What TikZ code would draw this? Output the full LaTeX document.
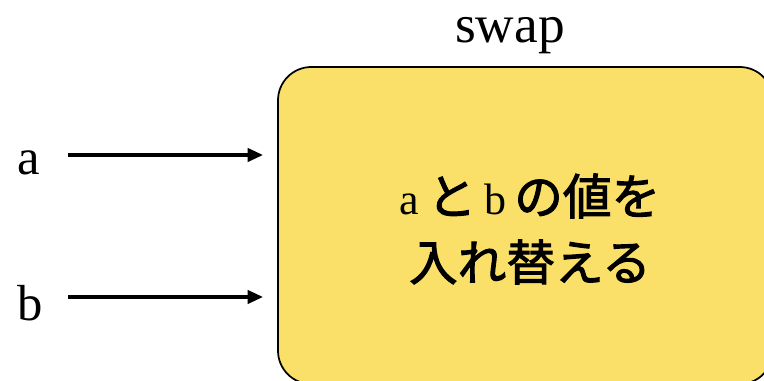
\documentclass[tikz,border=0pt]{standalone}
\usepackage{fontspec}
\setmainfont{Liberation Serif}
\newfontfamily\jp[FakeBold=2]{Noto Sans CJK JP}
\usetikzlibrary{arrows.meta}
\definecolor{boxfill}{RGB}{250,224,104}
\tikzset{
  lat/.style={font=\fontsize{38}{44}\selectfont, inner sep=0pt, anchor=base},
  swapbox/.style={draw=black, line width=1.3pt, fill=boxfill, rounded corners=25pt,
    minimum width=371.25pt, minimum height=237.75pt, inner sep=0pt},
  inner/.style={font=\fontsize{36.5}{49.5}\selectfont\jp, align=center, inner sep=0pt},
  arr/.style={line width=2.3pt, -{Triangle[length=11.5pt,width=10pt]}}
}
\begin{document}
\begin{tikzpicture}[x=0.75pt,y=-0.75pt]
\useasboundingbox (0,0) rectangle (764,381);
\clip (0,0) rectangle (764,381);
\node[swapbox] (box) at (525.5,225.5) {};
\node[lat, font=\fontsize{40}{46}\selectfont] (title) at (510,43) {swap};
\node[inner] (txt) at (530,229) {{\fontsize{33}{36}\selectfont\rmfamily a}\,と\,{\fontsize{33}{36}\selectfont\rmfamily b}\,の値を\\入れ替える};
\node[lat] (la) at (29,175) {a};
\node[lat] (lb) at (30,320) {b};
\coordinate (as) at (68,155);
\coordinate (ae) at (263,155);
\coordinate (bs) at (68,297);
\coordinate (be) at (263,297);
\draw[arr] (as) -- (ae);
\draw[arr] (bs) -- (be);
\end{tikzpicture}
\end{document}
